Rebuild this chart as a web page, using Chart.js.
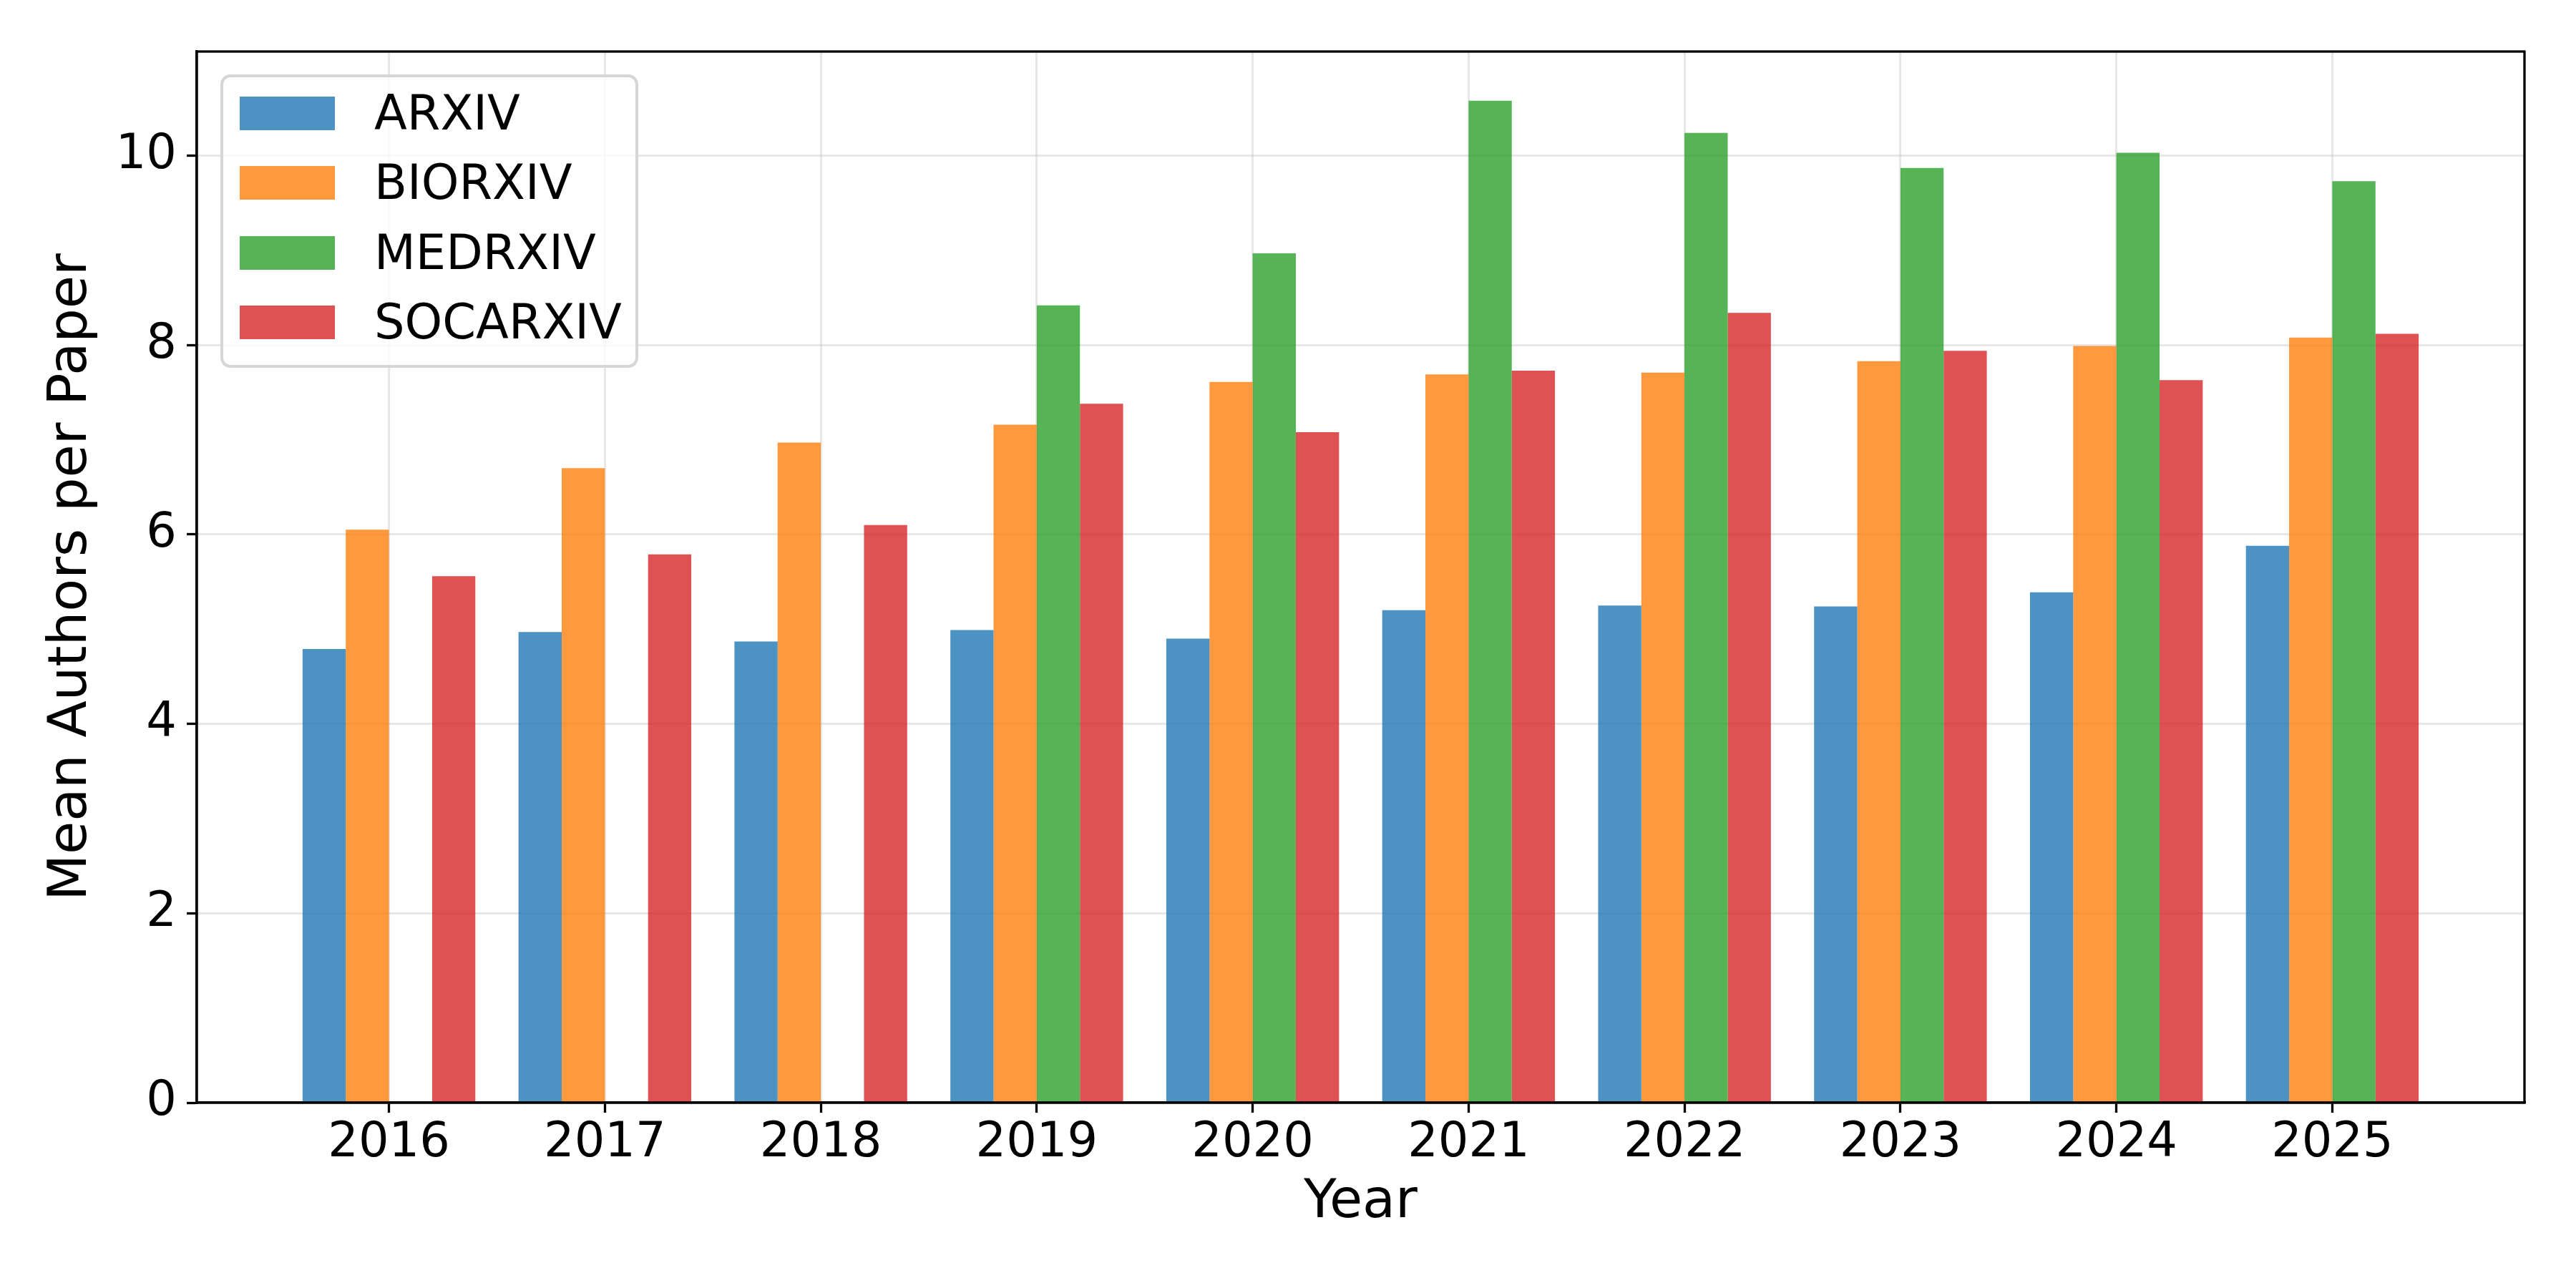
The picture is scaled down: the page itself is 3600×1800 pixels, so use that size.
<!DOCTYPE html>
<html>
<head>
<meta charset="utf-8">
<script src="https://cdn.jsdelivr.net/npm/chart.js@4/dist/chart.umd.min.js"></script>
<style>
  html, body { margin: 0; padding: 0; background: #fff; }
  #wrap { position: relative; width: 3600px; height: 1800px; }
  #myChart { display: block; }
  #legend {
    position: absolute; left: 308px; top: 104px; width: 584px; height: 410px;
    box-sizing: border-box; border: 4px solid #d6d6d6; border-radius: 14px;
    background: rgba(255, 255, 255, 0.8); padding: 2px 0 0 23px;
    font-family: 'DejaVu Sans'; font-size: 67px; color: #000;
  }
  .item { display: flex; align-items: center; height: 97.3px; }
  .box { width: 133px; height: 47px; }
  .label { margin-left: 55px; line-height: 1; }
</style>
</head>
<body>
<div id="wrap">
  <canvas id="myChart" width="3600" height="1800"></canvas>
  <div id="legend"></div>
</div>
<script>
const years = [2016, 2017, 2018, 2019, 2020, 2021, 2022, 2023, 2024, 2025]
const yTicks = [0, 2, 4, 6, 8, 10]

const seriesNames = ['ARXIV', 'BIORXIV', 'MEDRXIV', 'SOCARXIV']
const arxiv = [4.79, 4.97, 4.87, 4.99, 4.90, 5.20, 5.25, 5.24, 5.39, 5.88]
const biorxiv = [6.05, 6.70, 6.97, 7.16, 7.61, 7.69, 7.71, 7.83, 7.99, 8.08]
const medrxiv = [null, null, null, 8.42, 8.97, 10.58, 10.24, 9.87, 10.03, 9.73]
const socarxiv = [5.56, 5.79, 6.10, 7.38, 7.08, 7.73, 8.34, 7.94, 7.63, 8.12]

const colors = ['rgba(31,119,180,0.8)', 'rgba(255,127,14,0.8)', 'rgba(44,160,44,0.8)', 'rgba(214,39,40,0.8)']
const values = [arxiv, biorxiv, medrxiv, socarxiv]

Chart.defaults.font.family = 'DejaVu Sans'
Chart.defaults.color = '#000'

const gridColor = 'rgba(176,176,176,0.3)'

// box round the plot area, like the matplotlib spines
const frame = {
    id: 'frame',
    afterDraw(chart) {
        const {ctx, chartArea: a} = chart
        ctx.save()
        ctx.strokeStyle = '#000'
        ctx.lineWidth = 3.3
        ctx.strokeRect(a.left, a.top, a.right - a.left, a.bottom - a.top)
        ctx.restore()
    }
}

const htmlLegend = {
    id: 'htmlLegend',
    afterUpdate(chart) {
        const el = document.getElementById('legend')
        el.innerHTML = ''
        chart.data.datasets.forEach(ds => {
            const row = document.createElement('div')
            row.className = 'item'
            const box = document.createElement('span')
            box.className = 'box'
            box.style.background = ds.backgroundColor
            const txt = document.createElement('span')
            txt.className = 'label'
            txt.textContent = ds.label
            row.appendChild(box)
            row.appendChild(txt)
            el.appendChild(row)
        })
    }
}

const renderBarChart = () => {
    const ctx = document.getElementById('myChart')

    const datasets = seriesNames.map((name, i) => ({
        label: name,
        data: years.map((y, j) => ({x: y, y: values[i][j]})),
        backgroundColor: colors[i],
        borderWidth: 0
    }))

    new Chart(ctx, {
        type: 'bar',
        data: { datasets: datasets },
        options: {
            responsive: false,
            animation: false,
            devicePixelRatio: 1,
            layout: { padding: { left: 0, top: 72, right: 72, bottom: 0 } },
            plugins: {
                legend: { display: false },
                tooltip: { enabled: false }
            },
            datasets: { bar: { categoryPercentage: 0.8, barPercentage: 1.0 } },
            scales: {
                x: {
                    type: 'linear',
                    min: 2015.11,
                    max: 2025.89,
                    offset: false,
                    z: 1,
                    afterBuildTicks: s => { s.ticks = years.map(v => ({value: v})) },
                    afterFit: s => { s.height = 259 },
                    grid: { offset: false, color: gridColor, lineWidth: 3, tickColor: '#000', tickWidth: 3.3, tickLength: 14 },
                    border: { color: '#000', width: 3.3 },
                    ticks: { font: { size: 67 }, padding: 3, maxRotation: 0, autoSkip: false, callback: v => String(v) },
                    title: { display: true, text: 'Year', font: { size: 75 }, padding: { top: 0, bottom: 73 } }
                },
                y: {
                    min: 0,
                    max: 11.1,
                    z: 1,
                    afterBuildTicks: s => { s.ticks = yTicks.map(v => ({value: v})) },
                    afterFit: s => { s.width = 275 },
                    grid: { color: gridColor, lineWidth: 3, tickColor: '#000', tickWidth: 3.3, tickLength: 14 },
                    border: { color: '#000', width: 3.3 },
                    ticks: { font: { size: 67 }, padding: 14, callback: v => String(v) },
                    title: { display: true, text: 'Mean Authors per Paper', font: { size: 75 }, padding: { top: 56, bottom: 0 } }
                }
            }
        },
        plugins: [frame, htmlLegend]
    })
}

renderBarChart()
</script>
</body>
</html>
